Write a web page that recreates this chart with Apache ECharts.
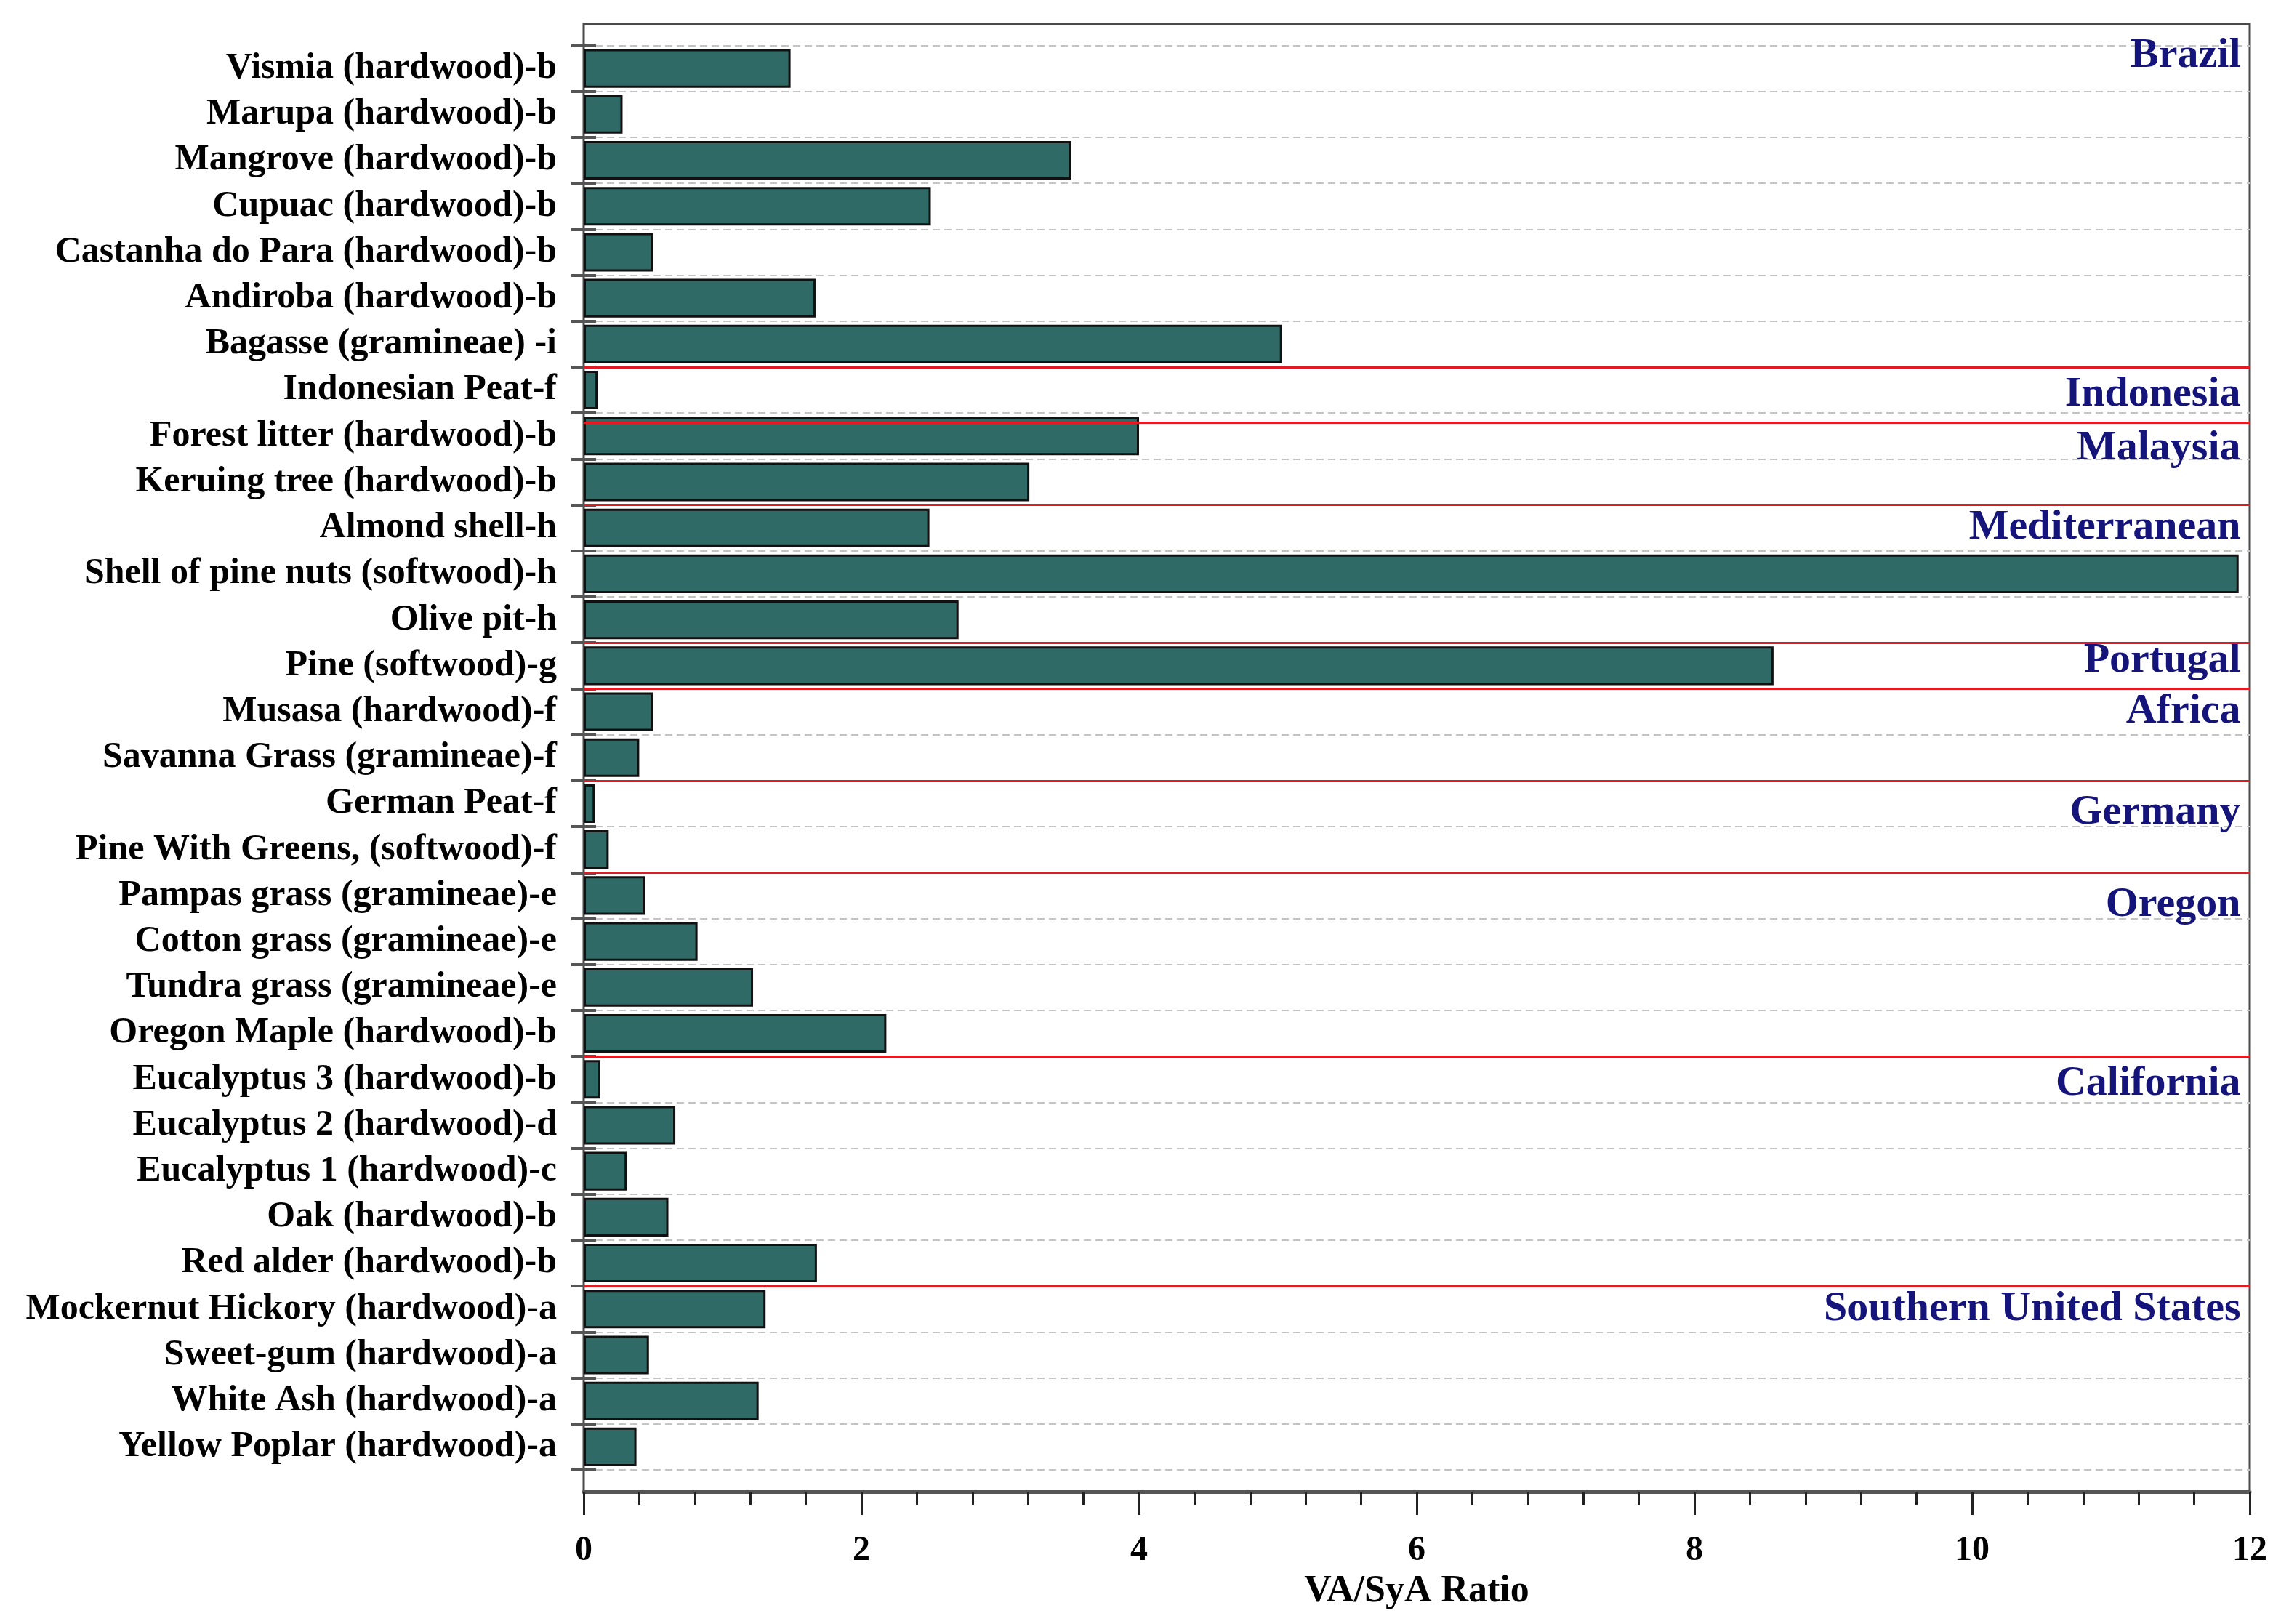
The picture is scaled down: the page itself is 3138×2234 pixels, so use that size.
<!DOCTYPE html>
<html>
<head>
<meta charset="utf-8">
<script src="https://cdn.jsdelivr.net/npm/echarts@6/dist/echarts.min.js"></script>
<style>
html,body{margin:0;padding:0;background:#fff;}
#chart{width:3138px;height:2234px;}
</style>
</head>
<body>
<div id="chart"></div>
<script>
const categories = [
  'Vismia (hardwood)-b','Marupa (hardwood)-b','Mangrove (hardwood)-b','Cupuac (hardwood)-b',
  'Castanha do Para (hardwood)-b','Andiroba (hardwood)-b','Bagasse (gramineae) -i',
  'Indonesian Peat-f','Forest litter (hardwood)-b','Keruing tree (hardwood)-b',
  'Almond shell-h','Shell of pine nuts (softwood)-h','Olive pit-h','Pine (softwood)-g',
  'Musasa (hardwood)-f','Savanna Grass (gramineae)-f','German Peat-f','Pine With Greens, (softwood)-f',
  'Pampas grass (gramineae)-e','Cotton grass (gramineae)-e','Tundra grass (gramineae)-e','Oregon Maple (hardwood)-b',
  'Eucalyptus 3 (hardwood)-b','Eucalyptus 2 (hardwood)-d','Eucalyptus 1 (hardwood)-c','Oak (hardwood)-b',
  'Red alder (hardwood)-b','Mockernut Hickory (hardwood)-a','Sweet-gum (hardwood)-a','White Ash (hardwood)-a',
  'Yellow Poplar (hardwood)-a'
];
const ratios = [
  1.49, 0.28, 3.51, 2.50, 0.50, 1.67, 5.03,
  0.10, 4.00, 3.21,
  2.49, 11.92, 2.70, 8.57,
  0.50, 0.40, 0.08, 0.18,
  0.44, 0.82, 1.22, 2.18,
  0.12, 0.66, 0.31, 0.61, 1.68,
  1.31, 0.47, 1.26, 0.38
];
const regionNames = ['Brazil','Indonesia','Malaysia','Mediterranean','Portugal','Africa','Germany','Oregon','California','Southern United States'];
const regionPos = [0.23, 7.6, 8.77, 10.5, 13.4, 14.5, 16.7, 18.7, 22.6, 27.5];
const regionBoundaries = [7, 8.2, 10, 13, 14, 16, 18, 22, 27];
const xTicks = [0, 2, 4, 6, 8, 10, 12];

const serif = 'Liberation Serif';
const chart = echarts.init(document.getElementById('chart'), null, {renderer:'canvas'});
chart.setOption({
  animation: false,
  backgroundColor: '#ffffff',
  grid: [
    {left: 803, right: 43, top: 33, bottom: 182, show: true, borderColor: '#4a4a4a', borderWidth: 3, backgroundColor: 'transparent'},
    {left: 803, right: 43, top: 62.5, bottom: 212}
  ],
  xAxis: [
    {gridIndex: 0, type: 'value', min: xTicks[0], max: xTicks[xTicks.length-1], interval: 2,
     axisLine: {show: true, lineStyle: {color: '#555', width: 5}},
     axisTick: {show: true, length: 32, lineStyle: {color: '#222', width: 3}},
     minorTick: {show: true, splitNumber: 5, length: 18, lineStyle: {color: '#222', width: 3}},
     splitLine: {show: false},
     axisLabel: {fontFamily: serif, fontWeight: 'bold', fontSize: 48, color: '#000', margin: 58},
     name: 'VA/SyA Ratio', nameLocation: 'middle', nameGap: 112,
     nameTextStyle: {fontFamily: serif, fontWeight: 'bold', fontSize: 52, color: '#000'}},
    {gridIndex: 1, type: 'value', min: 0, max: 12, show: false}
  ],
  yAxis: [
    {gridIndex: 0, type: 'value', min: 0, max: 1, show: false},
    {gridIndex: 1, type: 'category', data: categories, inverse: true, position: 'left',
     axisLine: {show: false},
     axisTick: {show: true, inside: false, interval: 0, length: 17, lineStyle: {color: '#555', width: 4}},
     splitLine: {show: true, interval: 0, lineStyle: {color: '#c4c4c4', type: [10, 6], width: 2}},
     axisLabel: {interval: 0, fontFamily: serif, fontWeight: 'bold', fontSize: 50, color: '#000', margin: 37}},
    {gridIndex: 1, type: 'value', min: 0, max: categories.length, inverse: true, show: false, position: 'left'},
    {gridIndex: 1, type: 'category', data: categories, inverse: true, position: 'left',
     axisLine: {show: false},
     axisTick: {show: true, inside: true, interval: 0, length: 17, lineStyle: {color: '#555', width: 4}},
     axisLabel: {show: false}, splitLine: {show: false}}
  ],
  series: [
    {type: 'bar', xAxisIndex: 1, yAxisIndex: 1, data: ratios, barWidth: '84%',
     itemStyle: {color: '#2f6a66', borderColor: '#111', borderWidth: 3}},
    {type: 'scatter', xAxisIndex: 1, yAxisIndex: 2, symbolSize: 1, silent: true,
     itemStyle: {color: 'rgba(0,0,0,0)', opacity: 1},
     data: regionNames.map((n, i) => ({name: n, value: [12, regionPos[i]]})),
     label: {show: true, position: 'left', distance: 12, formatter: p => p.name,
       fontFamily: serif, fontWeight: 'bold', fontSize: 58, color: '#14147a', opacity: 1},
     labelLayout: {hideOverlap: false},
     markLine: {silent: true, symbol: 'none', label: {show: false},
       lineStyle: {color: '#e01b24', type: 'solid', width: 3, opacity: 1},
       data: regionBoundaries.map(b => ({yAxis: b}))}}
  ]
});
</script>
</body>
</html>
